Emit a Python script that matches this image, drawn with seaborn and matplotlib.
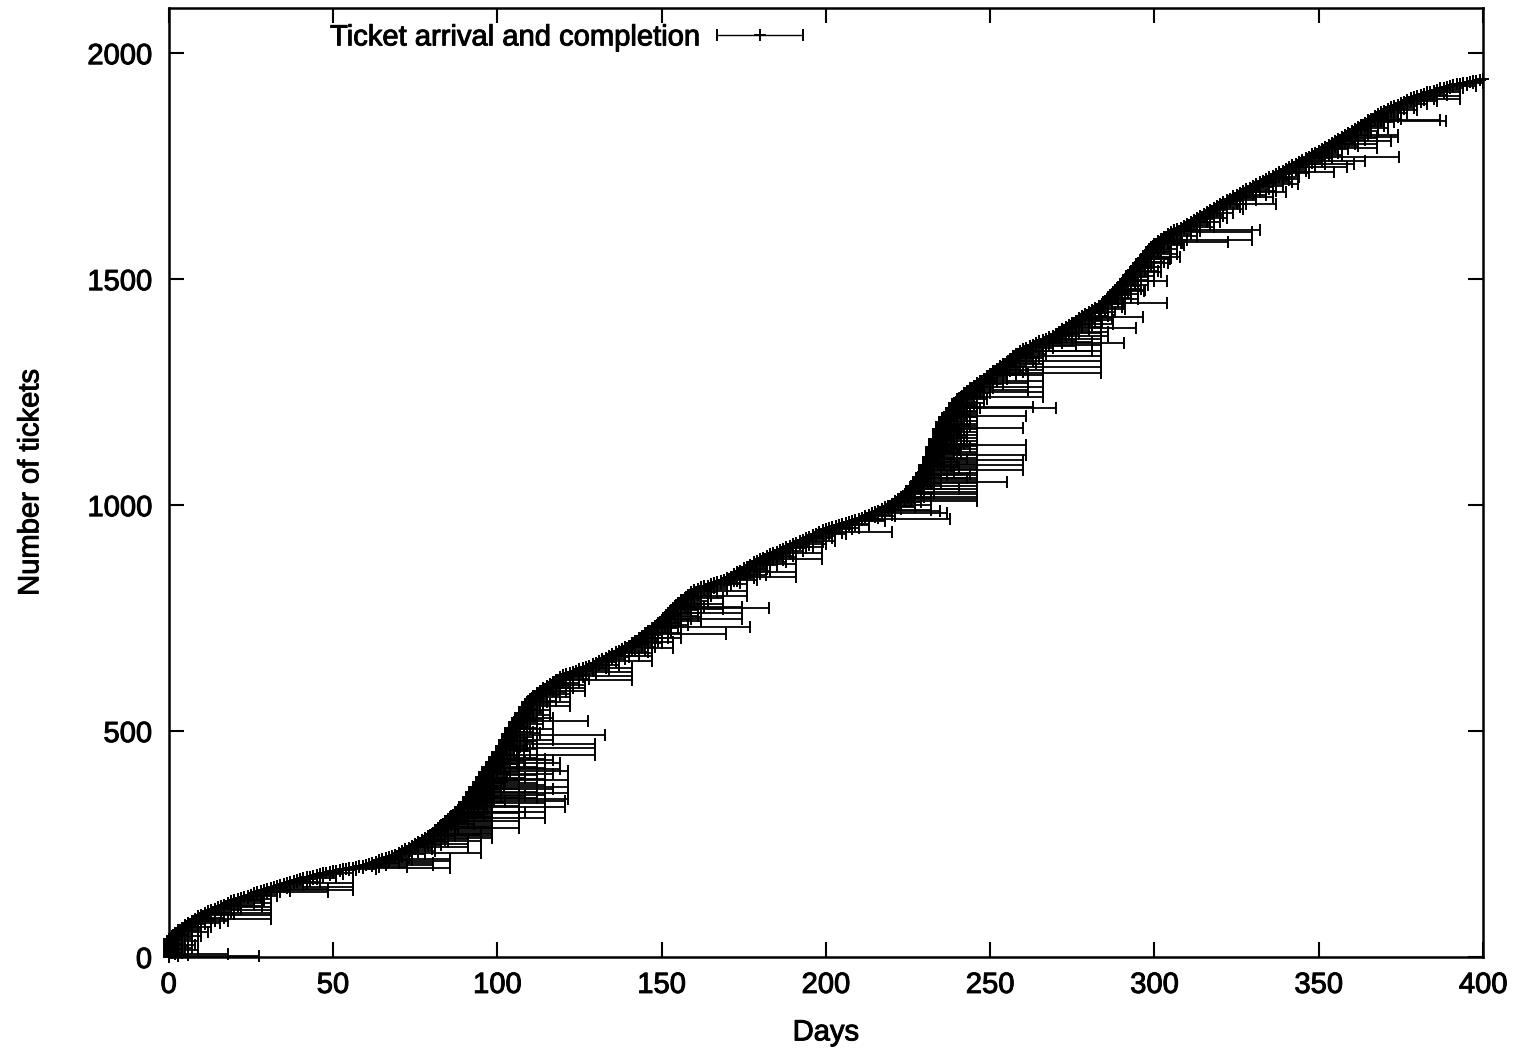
import numpy as np
import matplotlib
matplotlib.use("Agg")
import matplotlib.pyplot as plt
import matplotlib.patheffects as pe
from matplotlib.container import ErrorbarContainer
from matplotlib.legend_handler import HandlerErrorbar
import seaborn as sns

# Cumulative ticket arrivals: day -> number of tickets received so far
curve_days = [0, 0.5, 3.5, 10, 20, 30, 40, 50, 60, 70, 80, 90, 95, 100, 105,
              110, 115, 120, 130, 140, 150, 155, 160, 170, 180, 190, 200, 210,
              220, 225, 230, 235, 240, 245, 250, 255, 260, 270, 280, 285, 290,
              295, 300, 305, 310, 320, 330, 340, 350, 360, 370, 380, 390, 400]
curve_counts = [0, 40, 60, 93, 125, 150, 172, 190, 203, 228, 270, 337, 393,
                448, 514, 570, 598, 622, 650, 687, 742, 780, 812, 836, 880,
                912, 946, 968, 1000, 1028, 1078, 1178, 1232, 1262, 1289, 1315,
                1344, 1377, 1426, 1448, 1488, 1532, 1576, 1603, 1620, 1665,
                1705, 1742, 1782, 1826, 1872, 1905, 1928, 1942]
n_tickets = 1942
last_day = 400

# Typical turnaround (whole days) for routine tickets, repeated down the queue
quick_lag = [0, 3, 1, 6, 0, 2, 8, 1, 4, 2, 0, 5, 3, 1, 9, 2, 4, 0, 7, 2]

# Long-running tickets, grouped by the day they were finally closed
late_done_days = [
    18, 27.5, 9, 7, 15.6, 31, 28.5, 48.5, 56, 72.6, 80.5, 85.6, 91, 95,
    98.4, 106.6, 112, 114.5, 121.5, 120.6, 119, 129.7, 132.8, 127.6, 122,
    126.8, 141, 147, 153.5, 155.9, 169.6, 177, 162, 168.6, 174.4, 182.7, 176,
    181.8, 190.9, 198.8, 202.8, 220, 218, 210, 232, 234.7, 236.8, 237.8, 246,
    243, 255, 260, 261, 260.9, 263, 270, 266, 261.5, 283.8, 290.7, 286, 281,
    276, 294.3, 296.5, 287.4, 303.8, 296.8, 307.8, 304.7, 322.4, 329.7, 332,
    308.4, 316, 337, 340, 336, 343.7, 354.6, 358.5, 360.6, 374.4, 364, 367.7,
    372, 374, 388.7, 387, 393, 389, 368, 102.5, 108.5, 117, 240.5, 244]
late_ticket_ids = [
    [7, 80], [3], [57], [66], [75],
    [85, 92, 97, 104, 110, 119, 128, 138], [114, 124], [143, 150],
    [148, 155, 163], [200], [203, 208], [198, 212, 218], [243, 250, 262],
    [230, 256, 270],
    [264, 268, 272, 275, 279, 283, 287, 290, 294, 298, 302, 305, 309, 312,
     316, 320, 324, 328, 332, 336, 340, 345, 350, 355, 360, 365, 370, 376,
     382, 388, 394, 400, 406, 412, 418, 425, 430, 436],
    [285, 300, 318, 335, 352, 372, 390, 410, 428, 446],
    [351, 366, 384, 402, 420, 440, 460, 478],
    [307, 322, 341, 358, 380, 395, 419, 438],
    [349, 362, 377, 392, 411], [331, 346], [415, 429], [447, 462, 472],
    [491], [522], [555, 565, 575, 583], [588, 596, 602],
    [614, 622, 631, 640], [655, 665, 672, 690], [684, 698],
    [705, 718, 732, 740], [715], [730], [744, 752, 761], [770, 782, 795],
    [748, 762, 774], [772], [798, 810, 825, 836], [845, 858, 868],
    [840, 852, 870, 886], [880, 895, 908], [920, 932, 945, 954], [941],
    [964, 978], [950, 960], [990, 1000], [987], [982], [969],
    [1008, 1013, 1018, 1024, 1030, 1036, 1042, 1048, 1055, 1061, 1066, 1072,
     1079, 1084, 1090, 1096, 1104, 1112, 1118, 1124, 1130, 1136, 1142, 1148,
     1156, 1162, 1168, 1174, 1180, 1187, 1194, 1201, 1208, 1215, 1222, 1229,
     1236, 1242, 1246],
    [1060, 1101, 1151, 1191], [1050], [1077, 1088, 1099, 1171],
    [1110, 1132], [1197], [1217], [1214],
    [1240, 1250, 1262, 1275, 1288, 1300, 1312, 1325], [1255, 1270, 1291],
    [1292, 1305, 1318, 1330, 1342, 1355, 1368, 1380, 1395, 1411, 1425],
    [1358, 1445], [1375, 1382], [1341, 1361], [1351, 1366, 1378], [1392],
    [1416], [1401, 1409], [1447, 1496], [1473], [1549], [1545, 1560],
    [1582], [1586, 1604], [1608], [1581], [1626], [1666], [1693], [1682],
    [1710, 1722], [1737], [1748], [1754], [1770], [1762],
    [1790, 1800, 1812], [1805], [1815, 1820], [1850], [1852],
    [1898, 1906, 1915], [1920], [1838],
    [300, 342, 386, 422, 455], [321, 356, 397, 433, 468, 495],
    [371, 404, 437, 480, 505, 530], [1035, 1085, 1121, 1165, 1205],
    [1068, 1128, 1178, 1224]]

# Per-ticket arrival and completion days (tickets are logged by calendar day)
ticket_no = np.arange(1, n_tickets + 1)
arrival = np.round(np.interp(ticket_no, curve_counts, curve_days))
done = arrival + np.resize(quick_lag, n_tickets)
for day, ids in zip(late_done_days, late_ticket_ids):
    for t in ids:
        done[t - 1] = max(done[t - 1], day)
done = np.minimum(done, last_day)

sns.set_theme(style="ticks")
plt.rcParams["font.family"] = ["Liberation Sans", "DejaVu Sans"]
plt.rcParams["text.color"] = "black"
plt.rcParams["axes.labelcolor"] = "black"
plt.rcParams["xtick.color"] = "black"
plt.rcParams["ytick.color"] = "black"

fig = plt.figure(figsize=(15.22, 10.48), dpi=100)
ax = fig.add_axes([0.1108, 0.0868, 0.8636, 0.9056])

ax.errorbar(arrival, ticket_no, xerr=[np.zeros(n_tickets), done - arrival],
            fmt="+", color="black", ecolor="black", elinewidth=1.3,
            capsize=4.5, capthick=1.4, markersize=9, markeredgewidth=1.4,
            clip_on=False, label="Ticket arrival and completion")

ax.set_xlim(0, last_day)
ax.set_ylim(0, 2100)
ax.set_xticks(range(0, last_day + 1, 50))
ax.set_yticks(range(0, 2001, 500))
ax.tick_params(axis="both", which="both", direction="in", length=11,
               width=1.5, labelsize=21, top=True, right=True)
ax.tick_params(axis="x", pad=10)
ax.tick_params(axis="y", pad=12)
for side in ax.spines.values():
    side.set_linewidth(1.8)
    side.set_color("black")

ax.set_xlabel("Days", fontsize=21, labelpad=14)
ax.set_ylabel("Number of tickets", fontsize=21, labelpad=31)

leg = ax.legend(loc="center", bbox_to_anchor=(0.303, 0.969), frameon=False,
                markerfirst=False, fontsize=21, handlelength=3.0,
                handletextpad=0.55,
                handler_map={ErrorbarContainer: HandlerErrorbar(xerr_size=1.48)})
for h in leg.legend_handles:
    for art in ([h] if not hasattr(h, "__iter__") else h):
        if hasattr(art, "set_linewidth"):
            art.set_linewidth(1.0)

# slightly heavier strokes on all text
heavy = [pe.withStroke(linewidth=0.7, foreground="black")]
for txt in (ax.get_xticklabels() + ax.get_yticklabels()
            + [ax.xaxis.label, ax.yaxis.label] + leg.get_texts()):
    txt.set_path_effects(heavy)

fig.savefig("out.png", dpi=100)
